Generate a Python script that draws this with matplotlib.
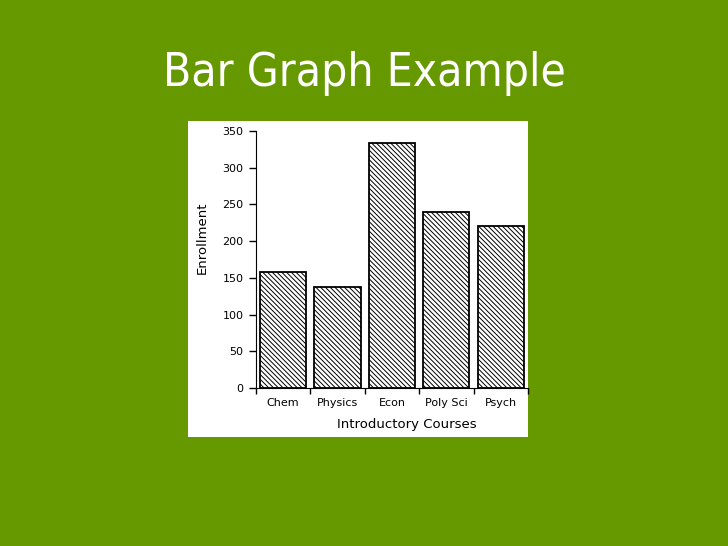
import matplotlib
matplotlib.use("Agg")
import matplotlib.pyplot as plt
from matplotlib.patches import Rectangle

courses = ["Chem", "Physics", "Econ", "Poly Sci", "Psych"]
enrollment = [158, 138, 333, 240, 220]
yticks = [0, 50, 100, 150, 200, 250, 300, 350]

plt.rcParams["hatch.linewidth"] = 0.7
plt.rcParams["font.family"] = ["DejaVu Sans"]

fig = plt.figure(figsize=(7.28, 5.46), dpi=100)
fig.patch.set_facecolor("#669900")

# white panel behind the chart
fig.patches.append(Rectangle((0.2582, 0.1996), 0.467, 0.5788, transform=fig.transFigure,
                             facecolor="white", edgecolor="none", zorder=-1))

fig.text(0.5, 0.866, "Bar Graph Example", ha="center", va="center", color="white",
         fontsize=33, family="DejaVu Sans", fontstretch="condensed")

ax = fig.add_axes([0.3516, 0.2894, 0.3736, 0.4707])
ax.set_facecolor("none")
x = list(range(len(courses)))
ax.bar(x, enrollment, width=0.85, color="white", edgecolor="black", linewidth=1.3,
       hatch="\\\\\\\\\\\\\\")

ax.set_xlim(-0.5, 4.5)
ax.set_ylim(0, 350)
ax.set_yticks(yticks)
ax.set_xticks(x)
ax.set_xticklabels(courses, fontsize=8)
ax.set_xticks([i - 0.5 for i in range(len(courses) + 1)], minor=True)
ax.tick_params(axis="x", which="major", length=0, pad=7)
ax.tick_params(axis="x", which="minor", length=4, width=1)
ax.tick_params(axis="y", length=5, width=1, labelsize=8, pad=4)
for s in ["top", "right"]:
    ax.spines[s].set_visible(False)
ax.set_xlabel("Introductory Courses", fontsize=9.5)
ax.set_ylabel("Enrollment", fontsize=9.5)
ax.xaxis.set_label_coords(0.555, -0.115)
ax.yaxis.set_label_coords(-0.175, 0.584)

fig.savefig("out.png", dpi=100, facecolor=fig.get_facecolor())
